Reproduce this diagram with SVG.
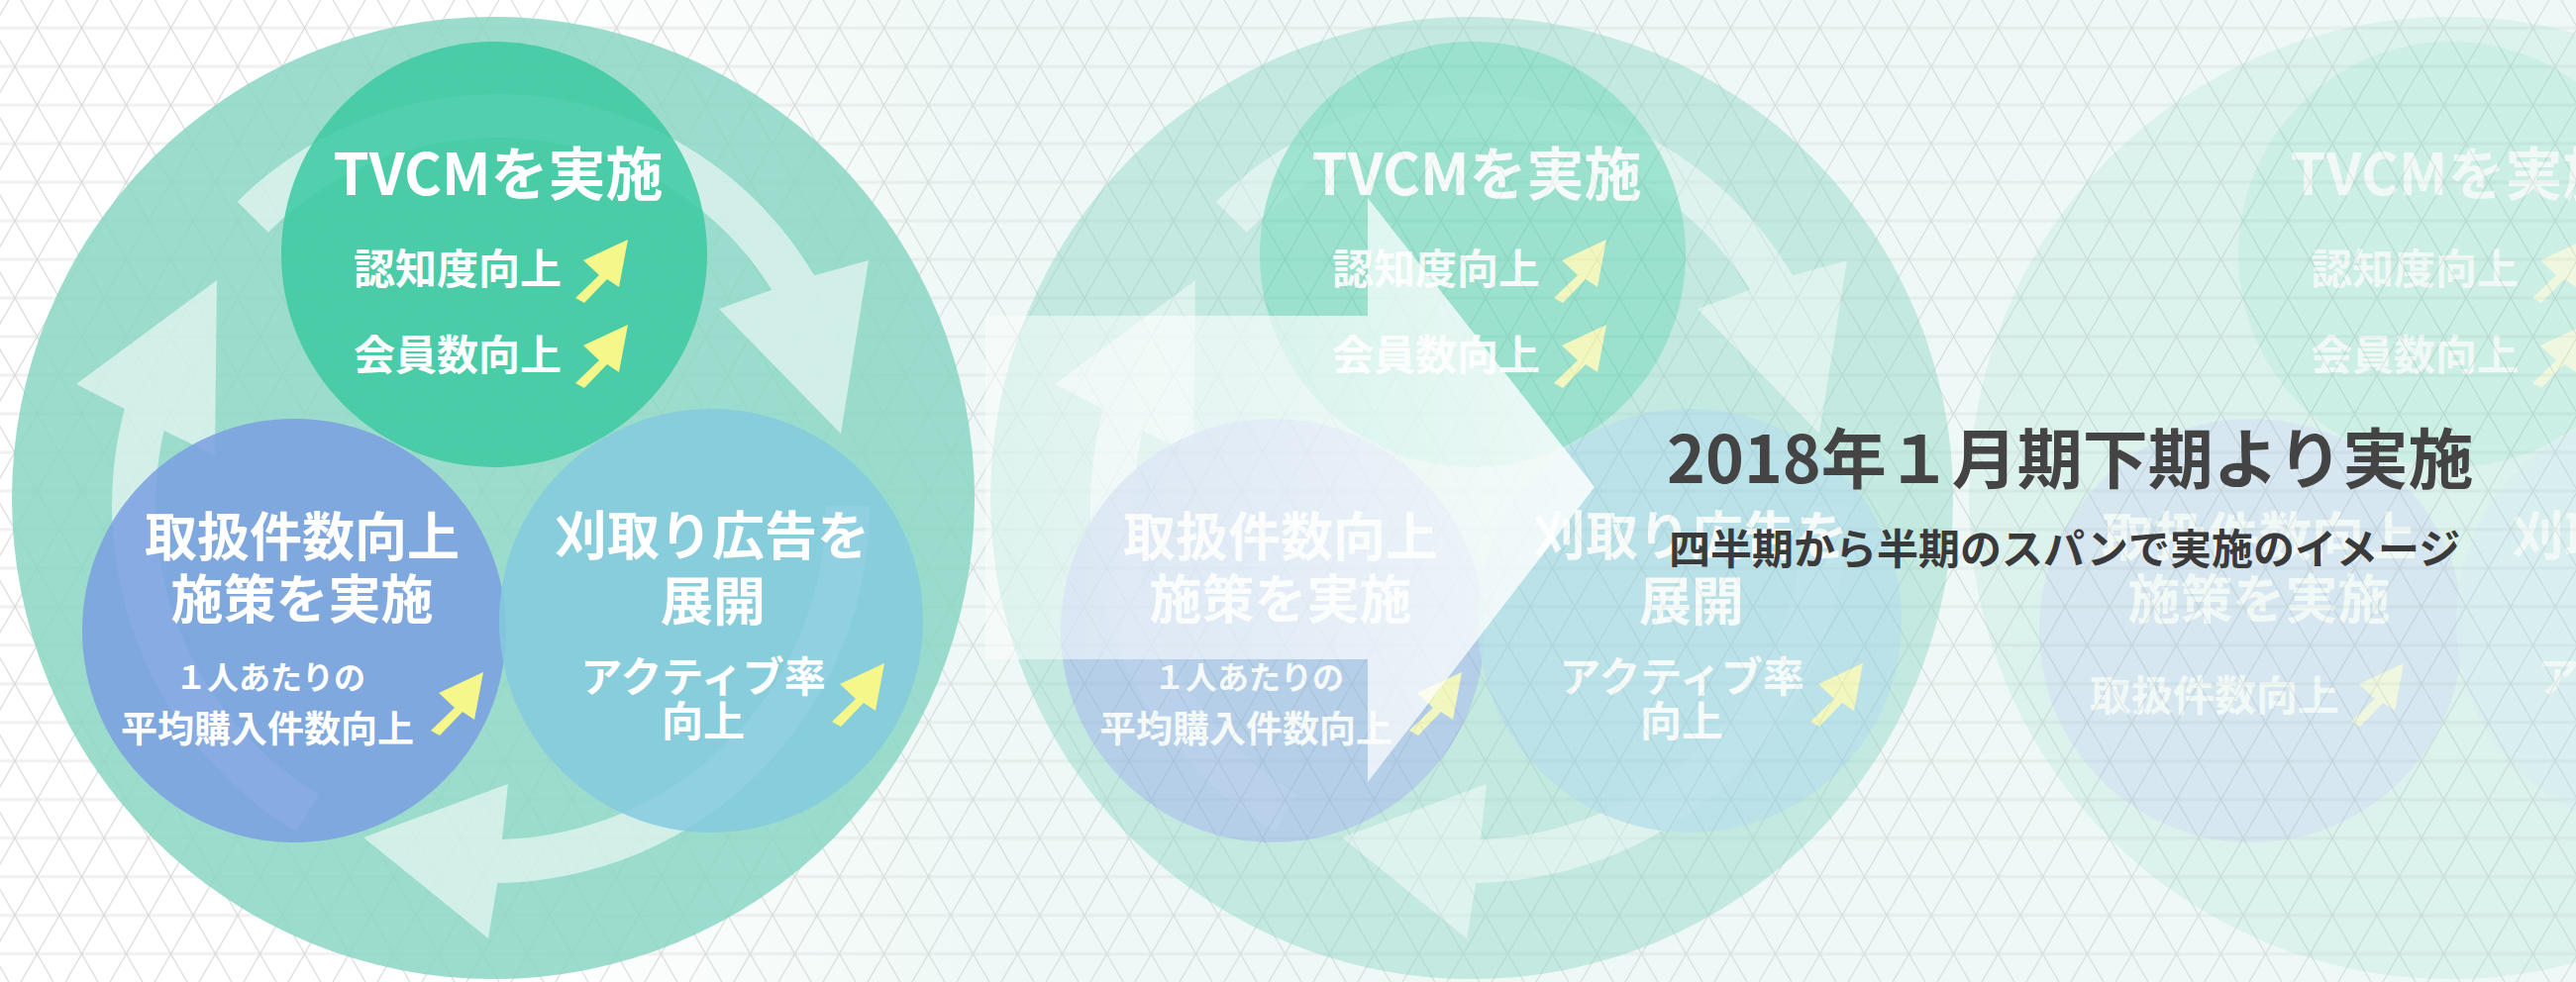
<svg xmlns="http://www.w3.org/2000/svg" width="2601" height="992" viewBox="0 0 2601 992">
<defs>
<style>
.big{fill:#8ad6c4;fill-opacity:.85}
.ca path{fill:#fff;fill-opacity:.55}
.tv{fill:#3cc9a1;fill-opacity:.85}
.bl{fill:#7a9fe1;fill-opacity:.85}
.lb{fill:#85cade;fill-opacity:.85}
text{font-family:"Noto Sans CJK JP","Noto Sans",sans-serif;font-weight:700}
.w{fill:#fff;text-anchor:middle}
.f58{font-size:58px}.f53{font-size:53px}.f42{font-size:42px}.f37{font-size:37px}.f32{font-size:32px}
.ya{fill:#f5f78a}
</style>
<pattern id="tri" patternUnits="userSpaceOnUse" x="15" y="-10.7" width="90" height="77.94">
<path d="M0,0H90M0,38.97H90M0,77.94H90" stroke="#f0f0f0" stroke-width="3" fill="none"/>
<path d="M-45,77.94L0,0M0,77.94L45,0M45,77.94L90,0M90,77.94L135,0M-45,0L0,77.94M0,0L45,77.94M45,0L90,77.94M90,0L135,77.94" stroke="#dadada" stroke-width="1.2" fill="none"/>
</pattern>
<linearGradient id="tint" gradientUnits="userSpaceOnUse" x1="550" y1="0" x2="1000" y2="0">
<stop offset="0" stop-color="#c6e7df" stop-opacity="0"/>
<stop offset="1" stop-color="#c6e7df" stop-opacity="1"/>
</linearGradient>
<linearGradient id="wa" gradientUnits="userSpaceOnUse" x1="990" y1="0" x2="1610" y2="0">
<stop offset="0" stop-color="#fff" stop-opacity=".45"/>
<stop offset="1" stop-color="#fff" stop-opacity=".82"/>
</linearGradient>
<polygon id="ya" class="ya" points="0,0 -9,48 -21,40 -44,64 -53,59 -29,36 -45,21"/>
</defs>

<rect width="2601" height="992" fill="#fff"/>
<rect width="2601" height="992" fill="url(#tri)"/>
<rect width="2601" height="992" fill="url(#tint)" opacity=".3"/>

<g id="cycle3" opacity=".2" transform="translate(1976,0)">
<circle class="big" cx="498" cy="503" r="486"/>
<g id="tvcm3">
<circle class="tv" cx="499" cy="257" r="215"/>
<text class="w f58" x="503" y="197">TVCMを実施</text>
<text class="w f42" x="462" y="287">認知度向上</text>
<text class="w f42" x="462" y="374">会員数向上</text>
<use href="#ya" x="634" y="242"/>
<use href="#ya" x="634" y="328"/>
</g>
<g id="sales3">
<circle class="bl" cx="297" cy="637" r="214"/>
<text class="w f53" x="305" y="562">取扱件数向上</text>
<text class="w f53" x="305" y="625">施策を実施</text>
<text class="w f42" x="260" y="718">取扱件数向上</text>
<use href="#ya" x="451" y="670"/>
</g>
<g id="ads3">
<circle class="lb" cx="718" cy="627" r="214"/>
<text class="w f53" x="719" y="561">刈取り広告を</text>
<text class="w f53" x="720" y="627">展開</text>
<text class="w f42" x="710" y="699">アクティブ率</text>
<text class="w f42" x="710" y="744">向上</text>
<use href="#ya" x="893" y="670"/>
</g>
</g>

<g id="cycle2" opacity=".5" transform="translate(988,0)">
<circle class="big" cx="498" cy="503" r="486"/>
<g class="ca">
<path d="M239.7,203.7 A371,371 0 0 1 822,278.3 L877,263 L849,438 L726,312 L779.3,292.7 A327,327 0 0 0 270.8,234.8 Z"/>
<path d="M299.2,840.2 A384,384 0 0 1 125.7,412.9 L77,388 L219,283 L217,460 L165.6,435.1 A340,340 0 0 0 321.9,802.4 Z"/>
<path d="M878,511 A381,381 0 0 1 502.3,892 L493,948 L367,846 L513,792 L507,847.9 A337,337 0 0 0 834,511 Z"/>
</g>
<g id="tvcm2">
<circle class="tv" cx="499" cy="257" r="215"/>
<text class="w f58" x="503" y="197">TVCMを実施</text>
<text class="w f42" x="462" y="287">認知度向上</text>
<text class="w f42" x="462" y="374">会員数向上</text>
<use href="#ya" x="634" y="242"/>
<use href="#ya" x="634" y="328"/>
</g>
<g id="sales2">
<circle class="bl" cx="297" cy="637" r="214"/>
<text class="w f53" x="305" y="562">取扱件数向上</text>
<text class="w f53" x="305" y="625">施策を実施</text>
<text class="w f32" x="273" y="696">１人あたりの</text>
<text class="w f37" x="270" y="750">平均購入件数向上</text>
<use href="#ya" x="488" y="679"/>
</g>
<g id="ads2">
<circle class="lb" cx="718" cy="627" r="214"/>
<text class="w f53" x="719" y="561">刈取り広告を</text>
<text class="w f53" x="720" y="627">展開</text>
<text class="w f42" x="710" y="699">アクティブ率</text>
<text class="w f42" x="710" y="744">向上</text>
<use href="#ya" x="893" y="670"/>
</g>
</g>

<g id="cycle1">
<circle class="big" cx="498" cy="503" r="486"/>
<g id="cycle1-arrows" class="ca">
<path d="M239.7,203.7 A371,371 0 0 1 822,278.3 L877,263 L849,438 L726,312 L779.3,292.7 A327,327 0 0 0 270.8,234.8 Z"/>
<path d="M299.2,840.2 A384,384 0 0 1 125.7,412.9 L77,388 L219,283 L217,460 L165.6,435.1 A340,340 0 0 0 321.9,802.4 Z"/>
<path d="M878,511 A381,381 0 0 1 502.3,892 L493,948 L367,846 L513,792 L507,847.9 A337,337 0 0 0 834,511 Z"/>
</g>
<g id="tvcm1">
<circle class="tv" cx="499" cy="257" r="215"/>
<text class="w f58" x="503" y="197">TVCMを実施</text>
<text class="w f42" x="462" y="287">認知度向上</text>
<text class="w f42" x="462" y="374">会員数向上</text>
<use href="#ya" x="634" y="242"/>
<use href="#ya" x="634" y="328"/>
</g>
<g id="sales1">
<circle class="bl" cx="297" cy="637" r="214"/>
<text class="w f53" x="305" y="562">取扱件数向上</text>
<text class="w f53" x="305" y="625">施策を実施</text>
<text class="w f32" x="273" y="696">１人あたりの</text>
<text class="w f37" x="270" y="750">平均購入件数向上</text>
<use href="#ya" x="488" y="679"/>
</g>
<g id="ads1">
<circle class="lb" cx="718" cy="627" r="214"/>
<text class="w f53" x="719" y="561">刈取り広告を</text>
<text class="w f53" x="720" y="627">展開</text>
<text class="w f42" x="710" y="699">アクティブ率</text>
<text class="w f42" x="710" y="744">向上</text>
<use href="#ya" x="893" y="670"/>
</g>
</g>

<g id="shift-arrow">
<polygon points="995,319 1381,319 1381,200 1610,492 1381,790 1381,666 995,666" fill="url(#wa)"/>
</g>

<g id="caption">
<text x="1683" y="488" font-size="66" fill="#444">2018年１月期下期より実施</text>
<text x="1685" y="570" font-size="42" fill="#3a3a3a">四半期から半期のスパンで実施のイメージ</text>
</g>
</svg>
